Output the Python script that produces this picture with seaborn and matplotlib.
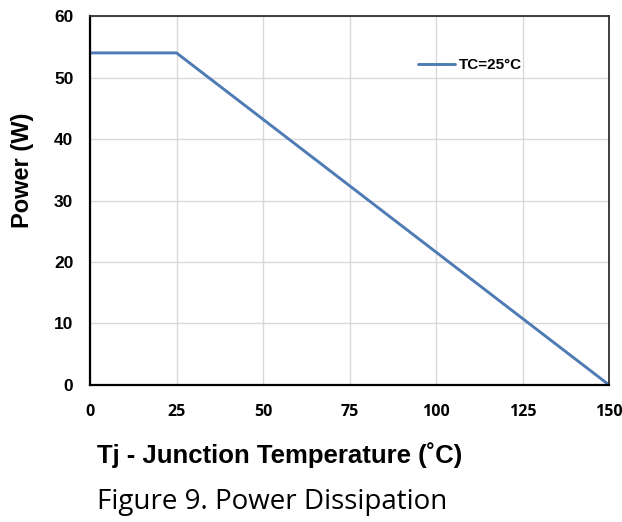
import matplotlib
matplotlib.use("Agg")
import matplotlib.pyplot as plt
import seaborn as sns
import pandas as pd

# Derating curve: flat up to 25 °C, then linear to zero at 150 °C
tj = [0, 25, 150]
power = [54, 54, 0]
series_label = "TC=25°C"

x_ticks = [0, 25, 50, 75, 100, 125, 150]
y_ticks = [0, 10, 20, 30, 40, 50, 60]

df = pd.DataFrame({"Tj": tj, "Power": power, "series": series_label})

sns.set_theme(style="white")
plt.rcParams["font.family"] = ["Liberation Sans", "DejaVu Sans"]
plt.rcParams["text.color"] = "#000000"
plt.rcParams["xtick.color"] = "#000000"
plt.rcParams["ytick.color"] = "#000000"

fig = plt.figure(figsize=(6.22, 5.22), dpi=100)
ax = fig.add_axes([0.1447, 0.2625, 0.8346, 0.7068])

sns.lineplot(data=df, x="Tj", y="Power", hue="series", palette=["#4f7bb5"],
             linewidth=2.1, ax=ax, legend=True)

ax.set_xlim(0, 150)
ax.set_ylim(0, 60)
ax.set_xticks(x_ticks)
ax.set_yticks(y_ticks)
ax.grid(True, color="#d9d9d9", linewidth=1.0)
ax.set_axisbelow(True)

for side in ["left", "bottom"]:
    ax.spines[side].set_color("#000000")
    ax.spines[side].set_linewidth(1.6)
for side in ["top", "right"]:
    ax.spines[side].set_color("#303030")
    ax.spines[side].set_linewidth(1.3)

ax.tick_params(axis="both", length=0, colors="#000000")
ax.tick_params(axis="x", pad=14)
ax.tick_params(axis="y", pad=12)
for lbl in ax.get_xticklabels():
    lbl.set_fontfamily(["Open Sans", "DejaVu Sans"])
    lbl.set_fontweight("bold")
    lbl.set_fontsize(11.5)
for lbl in ax.get_yticklabels():
    lbl.set_fontweight("bold")
    lbl.set_fontsize(12.5)

ax.set_xlabel("")
ax.set_ylabel("")

leg = ax.legend(loc="center left", bbox_to_anchor=(0.632, 0.867), frameon=False,
                borderaxespad=0, borderpad=0,
                handlelength=2.4, handletextpad=0.26,
                prop={"weight": "bold", "size": 11})
for t in leg.get_texts():
    t.set_color("#000000")

fig.text(0.036, 0.674, "Power (W)", fontsize=17, fontweight="bold", rotation=90,
         ha="center", va="center", color="#000000")
fig.text(0.156, 0.128, "Tj - Junction Temperature (˚C)", fontsize=18.5, fontweight="bold",
         ha="left", va="center", color="#000000")
fig.text(0.156, 0.038, "Figure 9. Power Dissipation", fontsize=20,
         family=["Open Sans", "DejaVu Sans"], ha="left", va="center", color="#000000")

fig.savefig("out.png", dpi=100)
